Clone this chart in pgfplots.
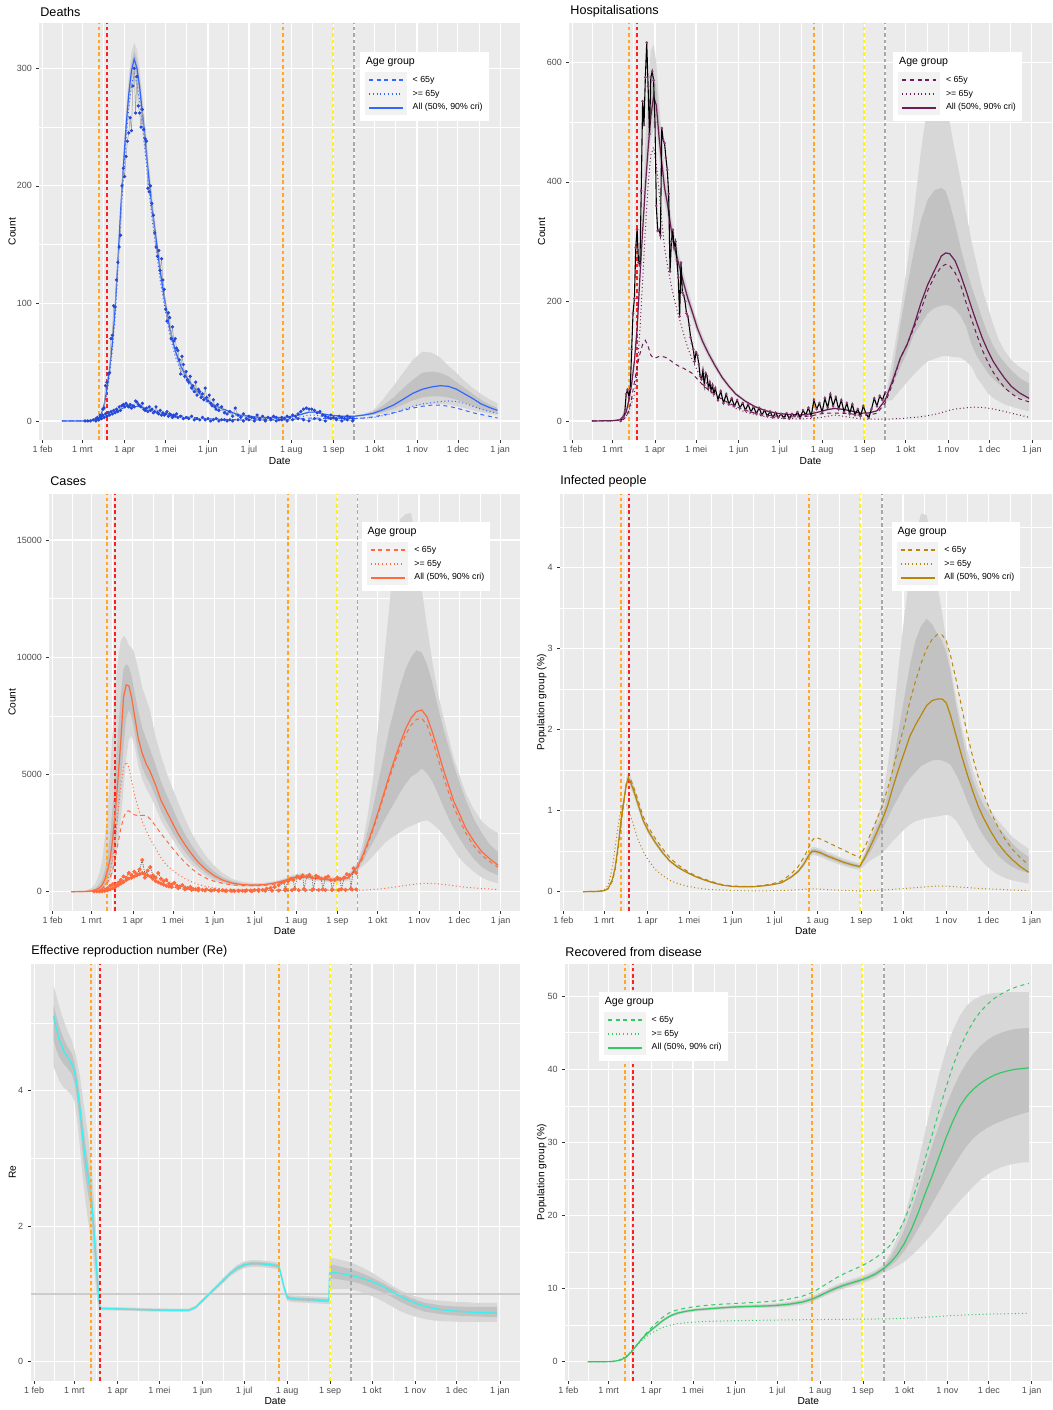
\documentclass[border=0pt]{standalone}
\usepackage{fontspec}
\setmainfont{Liberation Sans}
\usepackage{pgfplots}
\usepackage{pgfplotstable}
\pgfplotsset{compat=1.18}
\usepgfplotslibrary{fillbetween}

\definecolor{ggbg}{HTML}{EBEBEB}
\definecolor{rib90}{HTML}{D7D7D7}
\definecolor{rib50}{HTML}{C2C2C2}
\definecolor{keybg}{HTML}{F2F2F2}
\definecolor{ticktxt}{HTML}{4D4D4D}
\definecolor{tickln}{HTML}{333333}
\definecolor{vorange}{HTML}{FFA726}
\definecolor{vred}{HTML}{FF2020}
\definecolor{vyellow}{HTML}{FFF020}
\definecolor{vgray}{HTML}{A8A8A8}
\definecolor{dblue}{HTML}{3366FF}
\definecolor{ddot}{HTML}{2448D8}
\definecolor{hpur}{HTML}{6B1E55}
\definecolor{hdot}{HTML}{8A3A74}
\definecolor{cor}{HTML}{FF6A3D}
\definecolor{igold}{HTML}{B8860B}
\definecolor{rcyan}{HTML}{3CF0F0}
\definecolor{vgreen}{HTML}{34C965}

\pgfplotsset{
  gg/.style={
    scale only axis, anchor=north west,
    axis background/.style={fill=ggbg},
    axis line style={draw=none},
    xmin=28.5, xmax=380.5,
    xtick={31,60,91,121,152,182,213,244,274,305,335,366},
    xticklabels={1 feb,1 mrt,1 apr,1 mei,1 jun,1 jul,1 aug,1 sep,1 okt,1 nov,1 dec,1 jan},
    minor xtick={45.5,75.5,106,136.5,167,197.5,228.5,259,289.5,320,350.5},
    grid=both,
    major grid style={draw=white, line width=0.6pt},
    minor grid style={draw=white, line width=0.3pt},
    tick align=outside, xtick pos=bottom, ytick pos=left,
    major tick length=1.5pt, minor tick length=0pt,
    tick style={draw=tickln, line width=0.3pt},
    tick label style={font=\fontsize{4.5}{5}\selectfont, text=ticktxt},
    xticklabel style={yshift=1.8pt},
    yticklabel style={xshift=1.3pt},
    /pgf/number format/assume math mode=true,
    /pgf/number format/1000 sep={},
    scaled y ticks=false,
  },
  ggmed/.style={line width=0.6pt, solid},
  ggu/.style={line width=0.5pt, dash pattern=on 2pt off 1.8pt},
  ggo/.style={line width=0.5pt, dash pattern=on 0.5pt off 1.3pt},
  vdash/.style={line width=1pt, dash pattern=on 1.8pt off 1.4pt, forget plot},
}

\newcommand{\ribbons}[2]{%
  \addplot[draw=none, name path=#2a, forget plot] table[x=x, y=hi90] {#1};
  \addplot[draw=none, name path=#2b, forget plot] table[x=x, y=lo90] {#1};
  \addplot[fill=rib90, draw=none, forget plot] fill between[of=#2a and #2b];
  \addplot[draw=none, name path=#2c, forget plot] table[x=x, y=hi50] {#1};
  \addplot[draw=none, name path=#2d, forget plot] table[x=x, y=lo50] {#1};
  \addplot[fill=rib50, draw=none, forget plot] fill between[of=#2c and #2d];
}
\newcommand{\vl}[2]{%
  \addplot[draw=vorange, vdash] coordinates {(72,#1) (72,#2)};
  \addplot[draw=vred, vdash] coordinates {(78,#1) (78,#2)};
  \addplot[draw=vorange, vdash] coordinates {(207,#1) (207,#2)};
  \addplot[draw=vyellow, vdash] coordinates {(243.5,#1) (243.5,#2)};
  \addplot[draw=vgray, vdash, line width=0.8pt] coordinates {(259,#1) (259,#2)};
}
\newcommand{\agelegend}[3]{%
  \begin{scope}[shift={(#1,#2)}]
    \fill[white] (0,0) rectangle (128.5,69);
    \node[anchor=west, inner sep=0, font=\fontsize{5.3}{6}\selectfont] at (5.5,10.7) {Age group};
    \fill[keybg] (5,20.5) rectangle (46.7,63.5);
    \draw[draw=#3, line width=0.7pt, dash pattern=on 2pt off 1.8pt] (9,28.3) -- (43,28.3);
    \draw[draw=#3, line width=0.7pt, dash pattern=on 0.5pt off 1.4pt] (9,42.3) -- (43,42.3);
    \draw[draw=#3, solid, line width=0.9pt] (9,56) -- (43,56);
    \node[anchor=west, inner sep=0, font=\fontsize{4.4}{5}\selectfont] at (52.3,28.3) {< 65y};
    \node[anchor=west, inner sep=0, font=\fontsize{4.4}{5}\selectfont] at (52.3,42.3) {>= 65y};
    \node[anchor=west, inner sep=0, font=\fontsize{4.4}{5}\selectfont] at (52.3,56) {All (50\%, 90\% cri)};
  \end{scope}}

% ---------------- Deaths ----------------
\pgfplotstableread{
x med lo90 lo50 hi50 hi90 u o
45 0 0 0 0 0 0 0
60 0 0 0 0 0.2 0 0
65 0.3 0.2 0.25 0.35 0.5 0 0.3
68 0.8 0.6 0.7 0.9 1.2 0.3 0.5
70 1.5 1.2 1.4 1.7 2.2 0.5 1
72 2 1.7 1.9 2.3 3 1 1.5
74 6 5.3 5.7 6.3 7.5 1.5 4.5
76 14 12.8 13.5 14.5 16 2.5 11.5
78 27 25 26 28 30 3.5 23.5
80 44 41 43 45.5 48 5 39
82 66 62 64 68 71 6 60
84 95 89 92 97.5 101 7.5 87.5
86 135 127 131 138 143 8.5 126.5
88 178 168 173 182 188 10 168
90 215 203 209 220 227 11 204
92 250 236 243 256 264 11.5 238.5
94 278 262 270 284 293 12 266
96 298 281 290 305 314 12.5 285.5
98 308 291 300 315 322 12.5 295.5
100 300 284 292 307 316 12.5 287.5
102 284 268 276 290 299 12 272
104 262 247 255 268 277 11.5 250.5
106 240 226 233 246 254 11 229
108 215 203 209 220 228 10 205
111 182 171 177 186 193 9.5 172.5
114 155 146 151 159 164 9 146
117 128 120 124 131 136 8 120
120 105 99 102 108 112 6.5 98.5
124 79 74 77 81 84 5.5 73.5
128 60 56 58 62 64 5 55
132 47 44 45.5 48.5 50 4.5 42.5
136 38 35.5 37 39 40.5 3.5 34.5
141 29 27 28 30 31 3 26
146 23 21.5 22.3 23.8 24.6 2.5 20.5
151 18 16.8 17.4 18.6 19.3 2 16
156 14 13 13.5 14.5 15 1.7 12.3
161 11 10.2 10.6 11.4 11.8 1.4 9.6
168 8 7.4 7.7 8.3 8.6 1.2 6.8
175 5 4.6 4.8 5.2 5.5 1 4
183 4 3.7 3.85 4.15 4.4 1 3
190 3 2.7 2.85 3.15 3.4 1 2
198 3 2.7 2.85 3.15 3.4 1 2
207 3 2.7 2.85 3.15 3.4 1.2 1.8
214 4 3.6 3.8 4.2 4.5 1.5 2.5
220 5.5 5 5.3 5.8 6.2 2 3.5
226 7.5 6.8 7.2 7.8 8.3 2.5 5
231 7.5 6.8 7.2 7.8 8.3 2.5 5
236 6 5.4 5.7 6.3 6.7 2.3 3.7
241 5 4.5 4.8 5.2 5.6 2 3
250 4 3.6 3.8 4.2 4.5 2 2
259 4 3.5 3.8 4.2 4.5 2 2
266 5 4 4.5 5.5 6 2.5 2.5
273 6.5 4.8 5.5 8 9 3.5 3
280 9.5 6 7.5 13 18 5 4.5
288 13.6 8 10.5 20 30 7 6.6
295 18.5 10 14 28 41 9 9.5
302 23.5 12 17.5 35 52 11 12.5
309 27 13.5 20 41 59 12.5 14.5
316 29 14.5 21 42 58 13.5 15.5
322 30 14.5 21 41 54 13.5 16.5
328 29.5 14 20 38 47 12.5 17
334 27 12.5 18 33 41 11 16.5
340 23 11 15.5 28 34 9 15
346 19 9 12.5 23 28 7 12.5
352 14.5 7.5 10 18 23 5.5 10
358 11.5 6 8 14 18.5 4 8
364 9 5 6.5 11 15 2.5 6.5
}\tD
\pgfplotstableread{
x y
70 2
71 3
72 1
73 5
74 4
75 10
76 11
77 30
78 33
79 40
80 41
81 70
82 73
83 98
84 97
85 120
86 135
87 148
88 158
89 200
90 215
91 208
92 225
93 238
94 245
95 258
96 247
97 285
98 300
99 262
100 293
101 268
102 262
103 250
104 265
105 248
106 240
107 238
108 198
109 195
110 200
111 185
112 175
113 160
114 148
115 140
116 145
117 128
118 138
119 120
120 112
121 95
122 85
123 92
124 88
125 70
126 80
127 68
128 70
129 62
130 60
131 52
132 40
133 55
134 48
135 38
136 42
137 35
138 33
139 38
140 28
141 30
142 25
143 33
144 22
145 27
146 25
147 20
148 23
149 18
150 28
151 20
152 17
153 22
154 15
155 13
156 18
157 12
158 10
159 14
160 9
162 12
164 7
166 6
168 8
170 4
172 11
174 5
176 3
178 6
180 2
182 4
184 3
186 2
188 5
190 2
192 4
194 1
196 3
198 2
200 4
202 3
204 1
206 3
208 2
210 4
212 3
214 5
216 4
218 6
220 8
222 10
224 11
226 10
228 10
230 9
232 7
234 8
236 5
238 4
240 3
242 5
244 3
246 2
248 4
250 3
252 2
254 4
256 3
258 2
}\tDa
\pgfplotstableread{
x y
62 0
64 0
66 0
68 1
70 0
72 1
73 3
74 2
75 5
76 3
77 6
78 4
79 7
80 5
81 8
82 6
83 9
84 7
85 10
86 8
87 12
88 9
89 13
90 14
91 12
92 15
93 13
94 12
95 14
96 11
97 13
98 12
99 17
100 16
101 14
102 13
103 12
104 15
105 10
106 9
107 11
108 8
109 12
110 9
111 10
112 7
113 8
114 12
115 7
116 6
117 9
118 5
119 7
120 5
121 6
122 8
123 4
124 6
125 5
126 3
127 5
128 4
129 6
130 3
132 4
134 2
136 3
138 2
140 4
142 1
144 2
146 1
148 3
150 1
152 2
154 0
156 1
158 2
160 0
162 1
164 1
166 0
168 1
170 0
174 1
178 0
182 1
186 0
190 1
194 0
198 1
202 0
206 1
210 0
214 1
218 2
222 1
226 0
230 2
234 1
238 0
242 2
246 1
250 0
254 1
258 0
}\tDb

% ---------------- Hospitalisations ----------------
\pgfplotstableread{
x med lo90 lo50 hi50 hi90 u o
45 0 0 0 0 0 0 0
60 0.5 0.3 0.4 0.6 0.8 0.2 0.3
65 2 1.5 1.8 2.3 2.8 0.8 1.2
68 6 5 5.5 6.5 8 2.5 3.5
70 15 13 14 16 18 7 8
72 35 31 33 37 40 18 17
74 62 56 59 65 69 38 30
76 100 91 96 105 111 65 45
78 155 142 149 161 170 91 85
80 240 222 232 248 260 112 150
82 318 296 308 328 360 128 235
84 392 366 380 420 470 135 320
86 455 426 442 490 560 125 395
88 510 470 496 545 620 110 445
90 543 490 520 575 630 105 458
92 528 490 510 560 600 106 430
94 475 440 458 505 535 108 385
96 432 400 417 450 475 108 335
98 390 366 378 402 418 107 290
100 365 342 354 376 392 105 262
103 318 298 308 328 341 100 225
106 283 265 274 292 304 95 195
109 257 241 249 265 276 91 170
112 230 216 223 237 247 88 145
115 205 192 199 211 220 84 122
118 184 172 178 190 197 80 104
122 155 145 150 160 166 70 84
126 132 124 128 136 142 60 70
130 113 106 110 116 121 52 60
135 92 86 89 95 99 44 47
140 73 68 71 75 78 36 36
145 58 54 56 60 62 30 28
150 45 42 43.5 46.5 48 24 21
157 33 31 32 34 35.5 18 15
164 24 22.5 23.3 24.7 25.7 13 11
172 17 16 16.5 17.5 18.3 10 7
180 13 12.2 12.6 13.4 14 8 5
188 11 10.3 10.7 11.3 11.8 7 4
197 10 9.4 9.7 10.3 10.8 7 3.5
205 12 11.2 11.6 12.4 13 8.5 4
212 16 15 15.5 16.5 17.3 12 6
217 19 17.8 18.4 19.6 20.5 13 8
222 21 19.6 20.3 21.7 22.6 13 10
228 19.5 18.2 18.9 20.1 21 13 8
234 17 15.9 16.5 17.5 18.3 12 6
241 13 12.1 12.6 13.4 14 9.5 3.5
247 13.5 12.6 13.1 13.9 14.6 10 3
253 17 15.9 16.5 17.5 18.3 13 3
259 35 33 34 36 38 30 3
264 65 35 57 75 100 60 3.5
270 105 52 90 160 180 105 4
275 128 65 115 225 260 128 5
280 160 78 145 285 350 156 6
285 197 90 162 335 450 185 7
290 228 100 180 370 530 218 9
295 252 104 189 386 580 242 11
300 276 108 193 390 585 258 14
303 281 109 194 385 560 262 16
306 280 108 193 365 500 260 18
310 268 107 187 330 450 248 20
314 245 106 176 290 403 228 21
318 218 100 158 255 350 198 22
322 190 91 128 225 300 170 23
326 163 72 108 198 260 143 23
330 138 60 94 170 220 118 22.5
334 117 46 80 145 190 98 21.5
338 99 38 70 125 160 81 20
342 85 33 62 110 135 68 18
346 72 28 54 98 118 56 16
351 58 24 46 85 102 46 13
357 47 20 40 72 90 37 10
364 38 16 35 63 80 32 6
}\tH
\pgfplotstableread{
x y
66 0
67 5
68 8
69 15
70 45
71 52
72 40
73 55
74 120
75 180
76 205
77 290
78 320
79 265
80 260
81 385
82 535
83 495
84 575
85 633
86 560
87 480
88 575
89 585
90 570
91 500
92 360
93 318
94 320
95 310
96 490
97 470
98 465
99 440
100 420
101 380
102 250
103 300
104 320
105 290
106 300
107 270
108 240
109 175
110 265
111 215
112 210
113 200
114 180
115 175
116 160
117 140
118 130
119 120
120 100
121 115
122 110
123 95
124 75
125 70
126 85
127 60
128 80
129 75
130 55
131 65
132 50
133 60
134 45
135 55
137 35
139 50
141 30
143 45
145 28
147 38
149 25
151 35
153 22
155 30
157 18
159 28
161 15
163 24
165 12
167 22
169 10
171 18
173 8
175 16
177 6
179 14
181 6
183 12
185 5
187 13
189 4
191 12
193 8
195 15
197 5
199 18
201 10
203 22
205 8
207 35
209 20
211 30
213 15
215 38
217 22
219 45
221 25
223 40
225 20
227 35
229 15
231 30
233 12
235 28
237 10
239 20
241 8
243 25
245 12
247 5
249 20
251 38
253 25
255 42
257 35
259 48
}\tHa

% ---------------- Cases ----------------
\pgfplotstableread{
x med lo90 lo50 hi50 hi90 u o
45 0 0 0 0 0 0 0
55 10 2 5 20 40 5 5
60 35 10 20 70 150 15 20
63 80 25 45 150 350 35 45
66 170 55 100 330 800 80 90
68 284 95 170 530 1300 140 150
70 520 170 300 900 2300 250 280
72 900 300 520 1500 3400 400 500
74 1400 500 820 2400 5200 600 850
76 2300 800 1300 3700 7000 950 1450
78 3500 1300 2100 5300 8800 1500 2300
80 4900 2100 3200 6900 10000 2100 3400
82 6450 3100 4600 8400 10700 2700 4500
84 8300 4400 6200 9500 10900 3150 5300
86 8820 5700 7400 9700 10800 3420 5530
88 8780 6500 7750 9600 10500 3450 5300
90 8300 6650 7500 9200 10400 3350 4750
92 7600 6300 6900 8600 10200 3280 4200
95 6550 5400 5900 7700 9500 3250 3550
98 5900 4800 5300 7000 8700 3260 3000
101 5450 4400 4900 6500 8200 3260 2600
104 5120 4100 4600 6050 7700 3100 2250
108 4550 3600 4050 5400 6600 2800 1850
112 3900 3050 3450 4700 5800 2480 1450
116 3450 2650 3000 4150 5100 2190 1150
120 3000 2300 2600 3650 4500 1900 950
125 2450 1850 2100 3000 3800 1550 730
130 2000 1450 1700 2450 3100 1250 560
135 1600 1150 1350 1980 2500 980 420
140 1250 900 1050 1560 2000 760 310
146 930 650 780 1160 1500 570 220
152 680 460 560 850 1100 440 160
158 500 350 420 620 800 360 120
165 370 260 310 450 550 290 100
173 300 220 260 350 420 260 90
181 284 210 250 320 370 255 80
189 300 230 265 340 380 270 80
197 370 290 330 410 450 320 85
204 470 390 430 510 560 430 95
210 590 490 540 640 700 560 100
216 660 550 610 710 780 620 100
222 620 510 570 670 740 620 95
228 570 470 520 620 680 590 90
234 530 430 480 580 640 560 85
240 500 400 450 550 610 540 80
246 510 410 460 560 630 550 78
252 600 480 540 660 750 580 75
259 1066 880 960 1150 1250 1000 70
263 1550 1100 1300 1800 2100 1450 72
267 2150 1300 1750 2700 3400 2050 80
271 2800 1550 2150 3700 5000 2700 95
275 3500 1800 2600 4800 7400 3400 115
279 4250 2050 3050 5900 10000 4150 140
283 5000 2250 3450 7000 12300 4850 170
287 5700 2400 3850 7900 14800 5550 200
291 6350 2550 4250 8800 15900 6150 235
295 6950 2700 4600 9500 16100 6700 270
299 7400 2800 4900 10000 16150 7100 300
303 7680 2900 5050 10300 15000 7350 330
307 7750 3000 5250 10200 12900 7400 350
311 7450 3050 5050 9700 11300 7100 355
315 6800 2900 4700 8900 9800 6450 350
319 6050 2700 4200 7900 8500 5700 335
323 5250 2450 3650 7000 7500 4950 310
327 4550 2150 3150 6200 6600 4250 285
331 3850 1800 2700 5400 5700 3600 255
335 3350 1450 2300 4700 5000 3100 225
340 2700 1150 1850 3900 4200 2500 190
346 2150 850 1400 3100 3500 1950 160
352 1700 600 1050 2500 3000 1550 135
358 1400 450 850 2000 2700 1280 115
364 1137 355 700 1700 2500 1050 100
}\tC
\pgfplotstableread{
x y
62 10
64 20
66 40
68 60
70 100
72 150
74 250
76 320
78 280
80 380
82 500
84 650
86 600
88 800
90 700
92 850
94 750
96 950
98 1350
100 750
102 900
104 1050
106 700
108 600
110 800
112 550
114 450
116 500
118 350
120 300
122 380
124 250
126 220
128 280
130 180
132 150
134 200
136 120
138 100
140 140
143 80
146 100
149 60
152 80
155 50
158 60
161 40
164 50
167 35
170 45
173 40
176 60
179 50
182 70
185 90
188 80
191 130
194 160
197 200
200 280
202 380
204 420
205 120
207 450
209 550
211 500
212 130
214 650
216 580
218 700
219 120
221 650
223 720
225 600
226 110
228 680
230 620
232 550
233 100
235 600
237 650
239 500
240 100
242 500
244 600
246 550
247 110
249 600
251 750
253 700
254 130
256 1000
258 800
}\tCa
\pgfplotstableread{
x y
66 10
68 20
70 40
72 60
74 100
76 150
78 200
80 280
82 350
84 420
86 500
88 560
90 600
92 650
94 700
96 750
98 800
100 600
102 700
104 650
106 550
108 450
110 400
112 350
114 300
116 250
118 220
120 200
125 150
130 100
135 80
140 60
145 55
150 50
155 45
160 40
165 35
170 30
175 30
180 30
185 35
190 40
195 45
200 50
205 55
210 60
215 65
220 70
225 70
230 70
235 70
240 70
245 75
250 80
255 90
258 100
}\tCb

% ---------------- Infected ----------------
\pgfplotstableread{
x med lo90 lo50 hi50 hi90 u o
45 0 0 0 0 0 0 0
55 0.003 0.002 0.0025 0.0035 0.004 0.002 0.005
60 0.012 0.01 0.011 0.013 0.015 0.01 0.02
63 0.04 0.035 0.038 0.042 0.046 0.035 0.08
66 0.15 0.13 0.14 0.16 0.17 0.13 0.3
68 0.3 0.27 0.29 0.31 0.33 0.27 0.55
70 0.55 0.51 0.53 0.57 0.59 0.5 0.8
72 0.85 0.8 0.83 0.87 0.9 0.8 1.0
74 1.1 1.04 1.07 1.13 1.16 1.08 1.1
76 1.33 1.26 1.3 1.36 1.41 1.33 1.08
77.5 1.40 1.33 1.37 1.43 1.48 1.42 1.02
79 1.35 1.28 1.32 1.38 1.43 1.39 0.93
81 1.26 1.2 1.23 1.29 1.33 1.30 0.83
84 1.1 1.04 1.07 1.13 1.17 1.15 0.66
88 0.88 0.84 0.86 0.9 0.93 0.93 0.5
92 0.74 0.7 0.72 0.76 0.78 0.79 0.38
97 0.6 0.57 0.585 0.615 0.64 0.65 0.27
102 0.48 0.455 0.47 0.49 0.51 0.53 0.2
107 0.38 0.36 0.37 0.39 0.40 0.42 0.14
113 0.3 0.285 0.29 0.31 0.32 0.33 0.1
119 0.24 0.23 0.235 0.245 0.255 0.26 0.07
125 0.19 0.18 0.185 0.195 0.2 0.2 0.05
131 0.15 0.14 0.145 0.155 0.16 0.16 0.035
138 0.11 0.1 0.105 0.115 0.12 0.12 0.025
145 0.08 0.075 0.078 0.082 0.085 0.085 0.02
152 0.065 0.06 0.063 0.067 0.07 0.07 0.015
159 0.06 0.055 0.058 0.062 0.065 0.065 0.012
166 0.06 0.055 0.058 0.062 0.065 0.065 0.01
173 0.07 0.065 0.068 0.072 0.076 0.075 0.01
180 0.085 0.079 0.082 0.088 0.092 0.095 0.012
187 0.11 0.1 0.105 0.115 0.12 0.13 0.015
194 0.18 0.165 0.172 0.188 0.196 0.22 0.02
199 0.25 0.23 0.24 0.26 0.275 0.31 0.025
203 0.34 0.31 0.325 0.355 0.375 0.42 0.03
207 0.46 0.42 0.44 0.48 0.51 0.56 0.035
209 0.5 0.45 0.475 0.525 0.55 0.63 0.035
211 0.5 0.45 0.475 0.525 0.55 0.67 0.035
215 0.48 0.43 0.455 0.505 0.53 0.65 0.03
220 0.44 0.39 0.415 0.465 0.49 0.61 0.025
226 0.40 0.35 0.375 0.425 0.45 0.56 0.02
232 0.36 0.315 0.338 0.382 0.405 0.51 0.015
238 0.33 0.285 0.308 0.352 0.375 0.46 0.012
243 0.31 0.27 0.29 0.33 0.35 0.42 0.01
247 0.43 0.33 0.39 0.47 0.5 0.56 0.012
251 0.57 0.39 0.5 0.64 0.7 0.72 0.015
255 0.72 0.43 0.63 0.8 0.9 0.88 0.018
259 0.88 0.47 0.76 0.93 1.09 1.05 0.02
263 1.06 0.55 0.9 1.2 1.55 1.27 0.025
267 1.30 0.63 1.05 1.58 2.1 1.52 0.03
271 1.52 0.7 1.17 2.0 2.8 1.80 0.035
275 1.72 0.77 1.3 2.4 3.4 2.05 0.04
279 1.92 0.83 1.4 2.8 3.95 2.35 0.045
283 2.06 0.87 1.48 3.1 4.4 2.60 0.05
287 2.18 0.89 1.55 3.28 4.67 2.82 0.055
291 2.30 0.91 1.59 3.37 4.65 3.00 0.06
295 2.36 0.92 1.62 3.3 4.3 3.12 0.065
299 2.38 0.93 1.63 3.17 3.75 3.18 0.07
302 2.38 0.94 1.62 3.1 3.45 3.17 0.07
305 2.33 0.95 1.6 2.95 3.1 3.10 0.068
308 2.18 0.94 1.57 2.72 2.8 2.92 0.065
312 1.93 0.88 1.45 2.3 2.4 2.62 0.06
316 1.68 0.77 1.3 1.95 2.05 2.28 0.055
320 1.45 0.64 1.12 1.62 1.75 1.95 0.05
324 1.24 0.53 0.95 1.38 1.5 1.66 0.045
328 1.05 0.43 0.8 1.2 1.3 1.41 0.04
332 0.90 0.35 0.68 1.06 1.15 1.20 0.037
337 0.74 0.27 0.56 0.93 1.0 0.98 0.033
342 0.60 0.21 0.45 0.8 0.88 0.80 0.03
347 0.49 0.17 0.37 0.7 0.78 0.65 0.025
352 0.40 0.14 0.31 0.6 0.68 0.53 0.02
358 0.31 0.12 0.26 0.5 0.6 0.42 0.017
364 0.24 0.10 0.23 0.43 0.53 0.33 0.014
}\tI

% ---------------- Re ----------------
\pgfplotstableread{
x med lo90 lo50 hi50 hi90
45 5.1 4.35 4.75 5.25 5.55
47 4.92 4.25 4.6 5.1 5.4
49 4.76 4.15 4.5 4.95 5.25
52 4.6 4.05 4.4 4.78 5.05
55 4.5 4.0 4.33 4.65 4.88
58 4.4 3.93 4.25 4.55 4.75
60 4.28 3.85 4.12 4.42 4.6
62 4.05 3.55 3.85 4.2 4.42
64 3.72 3.15 3.5 3.9 4.2
66 3.3 2.7 3.05 3.55 3.9
68 2.95 2.35 2.7 3.2 3.6
70 2.7 2.05 2.45 2.9 3.3
72 2.45 1.8 2.25 2.62 2.95
74 1.92 1.4 1.7 2.1 2.4
76 1.35 0.95 1.15 1.5 1.8
77.5 0.95 0.78 0.85 1.05 1.2
78.5 0.79 0.76 0.775 0.8 0.82
80 0.785 0.76 0.775 0.795 0.81
90 0.78 0.755 0.768 0.792 0.805
100 0.775 0.75 0.763 0.787 0.8
115 0.765 0.74 0.753 0.777 0.79
130 0.76 0.735 0.748 0.772 0.785
142 0.76 0.735 0.748 0.772 0.785
147 0.8 0.775 0.788 0.812 0.825
152 0.9 0.87 0.885 0.915 0.93
157 1.0 0.97 0.985 1.015 1.03
162 1.1 1.065 1.083 1.117 1.135
167 1.2 1.16 1.18 1.22 1.24
172 1.3 1.26 1.28 1.32 1.34
177 1.38 1.33 1.355 1.405 1.43
182 1.43 1.38 1.405 1.455 1.48
187 1.45 1.4 1.425 1.475 1.5
192 1.45 1.4 1.425 1.475 1.5
197 1.44 1.39 1.415 1.465 1.49
202 1.43 1.38 1.405 1.455 1.48
207 1.41 1.36 1.385 1.435 1.46
209 1.25 1.2 1.225 1.275 1.3
211 1.08 1.03 1.055 1.105 1.13
213 0.95 0.9 0.925 0.975 1.0
216 0.93 0.88 0.905 0.955 0.98
225 0.92 0.87 0.895 0.945 0.97
235 0.91 0.86 0.885 0.935 0.96
243 0.9 0.85 0.875 0.925 0.95
243.5 1.3 1.06 1.22 1.42 1.52
246 1.32 1.07 1.23 1.43 1.53
252 1.3 1.07 1.21 1.4 1.5
258 1.28 1.07 1.19 1.37 1.47
264 1.25 1.04 1.16 1.33 1.42
270 1.21 1.0 1.12 1.28 1.36
276 1.17 0.95 1.07 1.22 1.29
282 1.11 0.89 1.02 1.16 1.21
288 1.04 0.82 0.96 1.09 1.13
294 0.97 0.75 0.89 1.02 1.06
300 0.91 0.7 0.83 0.96 1.0
306 0.86 0.66 0.78 0.91 0.96
312 0.82 0.63 0.74 0.87 0.93
318 0.79 0.61 0.72 0.85 0.91
324 0.77 0.6 0.7 0.83 0.9
330 0.755 0.595 0.69 0.82 0.89
336 0.745 0.59 0.68 0.815 0.88
342 0.735 0.59 0.675 0.81 0.88
348 0.73 0.59 0.67 0.81 0.87
354 0.725 0.59 0.665 0.81 0.87
360 0.72 0.59 0.66 0.81 0.87
364 0.72 0.59 0.66 0.81 0.87
}\tR

% ---------------- Recovered ----------------
\pgfplotstableread{
x med lo90 lo50 hi50 hi90 u o
45 0 0 0 0 0 0 0
55 0 0 0 0 0 0 0
62 0.02 0.015 0.018 0.022 0.025 0.02 0.02
66 0.12 0.1 0.11 0.13 0.14 0.1 0.15
70 0.35 0.31 0.33 0.37 0.39 0.3 0.45
73 0.7 0.64 0.67 0.73 0.76 0.65 0.85
76 1.25 1.16 1.2 1.3 1.34 1.2 1.35
79 1.95 1.84 1.9 2.0 2.06 1.9 1.95
82 2.65 2.52 2.58 2.72 2.78 2.65 2.55
85 3.3 3.15 3.22 3.38 3.45 3.4 3.05
88 3.85 3.69 3.77 3.93 4.01 4.05 3.5
91 4.35 4.18 4.26 4.44 4.52 4.65 3.9
94 4.8 4.62 4.71 4.89 4.98 5.2 4.2
97 5.3 5.11 5.2 5.4 5.49 5.75 4.5
101 5.85 5.65 5.75 5.95 6.05 6.35 4.8
105 6.3 6.1 6.2 6.4 6.5 6.8 5.0
110 6.65 6.44 6.54 6.76 6.86 7.1 5.2
116 6.9 6.68 6.79 7.01 7.12 7.35 5.33
123 7.1 6.88 6.99 7.21 7.32 7.55 5.42
130 7.2 6.98 7.09 7.31 7.42 7.7 5.5
140 7.35 7.12 7.23 7.47 7.58 7.85 5.56
150 7.48 7.25 7.36 7.6 7.71 7.95 5.6
160 7.55 7.31 7.43 7.67 7.79 8.05 5.64
170 7.6 7.35 7.47 7.73 7.85 8.15 5.67
180 7.68 7.4 7.54 7.82 7.96 8.3 5.7
190 7.85 7.53 7.69 8.01 8.17 8.55 5.72
200 8.15 7.8 7.97 8.33 8.5 8.95 5.74
207 8.55 8.17 8.36 8.74 8.93 9.45 5.76
213 9.05 8.65 8.85 9.25 9.45 10.1 5.77
219 9.6 9.18 9.39 9.81 10.02 10.8 5.78
225 10.1 9.66 9.88 10.32 10.54 11.5 5.79
231 10.5 10.04 10.27 10.73 10.96 12.1 5.8
237 10.85 10.37 10.61 11.09 11.33 12.6 5.81
243 11.2 10.7 10.95 11.45 11.7 13.1 5.82
248 11.55 11.03 11.29 11.81 12.07 13.6 5.83
253 12.0 11.48 11.74 12.26 12.52 14.2 5.84
259 12.75 12.2 12.45 13.0 13.3 15.0 5.85
264 13.6 12.6 13.1 14.3 14.9 16.0 5.87
269 14.7 13.1 14.0 16.0 17.0 17.5 5.9
274 16.2 13.7 15.2 18.1 19.8 19.4 5.93
279 18.1 14.5 16.6 20.7 23.3 21.8 5.97
284 20.4 15.4 18.2 23.6 27.3 24.6 6.02
289 23.0 16.4 19.9 26.6 31.5 27.8 6.08
294 25.4 17.5 21.6 29.5 35.5 31.0 6.14
299 28.0 18.6 23.3 32.3 39.3 34.3 6.2
304 30.6 19.8 25.0 34.9 42.6 37.5 6.26
309 32.9 20.9 26.6 37.3 45.3 40.4 6.31
314 34.9 22.0 28.1 39.3 47.3 42.9 6.36
319 36.3 23.0 29.5 40.9 48.7 44.9 6.4
324 37.3 24.0 30.6 42.2 49.5 46.6 6.44
329 38.1 24.9 31.4 43.2 50.0 47.9 6.47
334 38.7 25.6 32.0 44.0 50.3 48.9 6.5
339 39.2 26.2 32.5 44.6 50.45 49.7 6.53
344 39.55 26.6 32.9 45.0 50.5 50.3 6.55
349 39.8 26.9 33.3 45.3 50.55 50.8 6.57
354 40.0 27.1 33.6 45.5 50.55 51.2 6.59
359 40.1 27.25 33.9 45.6 50.55 51.5 6.6
364 40.2 27.3 34.2 45.65 50.55 51.75 6.61
}\tV

\begin{document}
\begin{tikzpicture}

% Deaths
\begin{axis}[gg, at={(19.65pt,-11.65pt)}, width=240.35pt, height=208.35pt,
  ymin=-16.2, ymax=338.3, ytick={0,100,200,300}, minor ytick={50,150,250}]
\ribbons{\tD}{D}
\vl{-16.2}{338.3}
\addplot[draw=dblue, ggu] table[x=x, y=u] {\tD};
\addplot[draw=dblue, ggo] table[x=x, y=o] {\tD};
\addplot[draw=dblue, ggmed] table[x=x, y=med] {\tD};
\addplot[draw=gray!75, line width=0.25pt] table {\tDa};
\addplot[draw=gray!75, line width=0.25pt] table {\tDb};
\addplot[only marks, mark=*, mark size=0.6pt, draw=ddot, fill=ddot] table {\tDa};
\addplot[only marks, mark=*, mark size=0.6pt, draw=ddot, fill=ddot] table {\tDb};
\end{axis}

% Hospitalisations
\begin{axis}[gg, at={(284.65pt,-11.65pt)}, width=241.2pt, height=208.35pt,
  ymin=-31.8, ymax=665.3, ytick={0,200,400,600}, minor ytick={100,300,500}]
\ribbons{\tH}{H}
\vl{-31.8}{665.3}
\addplot[draw=hpur, ggu] table[x=x, y=u] {\tH};
\addplot[draw=hpur, ggo] table[x=x, y=o] {\tH};
\addplot[draw=hpur, ggmed] table[x=x, y=med] {\tH};
\addplot[draw=black, line width=0.55pt] table {\tHa};
\addplot[only marks, mark=*, mark size=0.45pt, draw=hdot, fill=hdot] table {\tHa};
\end{axis}

% Cases
\begin{axis}[gg, at={(24.65pt,-247pt)}, width=235.35pt, height=208.35pt,
  ymin=-810, ymax=16962, ytick={0,5000,10000,15000}, minor ytick={2500,7500,12500}]
\ribbons{\tC}{C}
\vl{-810}{16962}
\addplot[draw=cor, ggu] table[x=x, y=u] {\tC};
\addplot[draw=cor, ggo] table[x=x, y=o] {\tC};
\addplot[draw=cor, ggmed] table[x=x, y=med] {\tC};
\addplot[draw=black!70, line width=0.3pt, dash pattern=on 0.6pt off 0.6pt] table {\tCa};
\addplot[draw=black!70, line width=0.3pt, dash pattern=on 0.6pt off 0.6pt] table {\tCb};
\addplot[only marks, mark=*, mark size=0.8pt, draw=cor, fill=cor] table {\tCa};
\addplot[only marks, mark=*, mark size=0.8pt, draw=cor, fill=cor] table {\tCb};
\end{axis}

% Infected people
\begin{axis}[gg, at={(280pt,-247pt)}, width=245.85pt, height=208.35pt,
  ymin=-0.235, ymax=4.91, ytick={0,1,2,3,4}, minor ytick={0.5,1.5,2.5,3.5,4.5}]
\ribbons{\tI}{I}
\vl{-0.235}{4.91}
\addplot[draw=igold, ggu] table[x=x, y=u] {\tI};
\addplot[draw=igold, ggo] table[x=x, y=o] {\tI};
\addplot[draw=igold, ggmed] table[x=x, y=med] {\tI};
\end{axis}

% Re
\begin{axis}[gg, at={(15.35pt,-482pt)}, width=244.65pt, height=208.35pt,
  ymin=-0.28, ymax=5.87, ytick={0,2,4}, minor ytick={1,3,5}]
\ribbons{\tR}{R}
\addplot[draw=black!20, line width=0.8pt, forget plot] coordinates {(28.5,1) (380.5,1)};
\addplot[draw=rcyan, line width=0.65pt] table[x=x, y=med] {\tR};
\vl{-0.28}{5.87}
\end{axis}

% Recovered
\begin{axis}[gg, at={(282.5pt,-482pt)}, width=243.35pt, height=208.35pt,
  ymin=-2.6, ymax=54.4, ytick={0,10,20,30,40,50}, minor ytick={5,15,25,35,45}]
\ribbons{\tV}{V}
\vl{-2.6}{54.4}
\addplot[draw=vgreen, ggu] table[x=x, y=u] {\tV};
\addplot[draw=vgreen, ggo] table[x=x, y=o] {\tV};
\addplot[draw=vgreen, ggmed] table[x=x, y=med] {\tV};
\end{axis}

% titles, axis titles and legends (pixel coordinates of the reference)
\begin{scope}[x=0.5pt, y=-0.5pt]
  \tikzset{ttl/.style={anchor=west, inner sep=0, font=\fontsize{6.3}{7.5}\selectfont},
           axt/.style={inner sep=0, font=\fontsize{5.1}{6}\selectfont}}
  \node[ttl] at (40,11.5) {Deaths};
  \node[ttl] at (570,11.5) {Hospitalisations};
  \node[ttl] at (50,481.5) {Cases};
  \node[ttl] at (560,481.5) {Infected people};
  \node[ttl] at (31,951.5) {Effective reproduction number (Re)};
  \node[ttl] at (565,951.5) {Recovered from disease};

  \node[axt] at (279.7,460.7) {Date};
  \node[axt] at (810.5,460.7) {Date};
  \node[axt] at (284.7,930.7) {Date};
  \node[axt] at (805.8,930.7) {Date};
  \node[axt] at (275.3,1400.7) {Date};
  \node[axt] at (808.3,1400.7) {Date};

  \node[axt, rotate=90] at (12,231.7) {Count};
  \node[axt, rotate=90] at (541.7,231.7) {Count};
  \node[axt, rotate=90] at (12,702.3) {Count};
  \node[axt, rotate=90] at (541.7,702.3) {Population group (\%)};
  \node[axt, rotate=90] at (12.3,1172.3) {Re};
  \node[axt, rotate=90] at (541.7,1172.3) {Population group (\%)};

  \agelegend{360}{51.7}{dblue}
  \agelegend{893.3}{51.7}{hpur}
  \agelegend{361.7}{521.7}{cor}
  \agelegend{891.7}{521.7}{igold}
  \agelegend{599}{991.7}{vgreen}
\end{scope}

\pgfresetboundingbox
\path[use as bounding box] (0pt,0pt) rectangle (526.5pt,-705pt);
\end{tikzpicture}
\end{document}
